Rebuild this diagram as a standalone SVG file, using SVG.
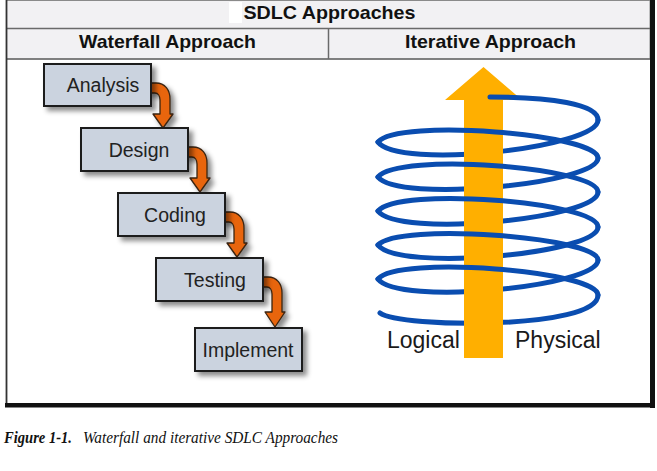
<svg xmlns="http://www.w3.org/2000/svg" width="657" height="471" viewBox="0 0 657 471">
<defs>
<style>
.hdr{font-family:"Liberation Sans",Arial,sans-serif;font-weight:bold;font-size:19px;fill:#111;text-anchor:middle}
.box{fill:#cbd3df;stroke:#1e1e1e;stroke-width:2}
.lbl{font-family:"Liberation Sans",Arial,sans-serif;font-size:19.5px;fill:#222;text-anchor:middle}
.arr{fill:#e8650f;stroke:#3a2412;stroke-width:1.3;stroke-linejoin:round}
.coil{fill:none;stroke:#0a4db0;stroke-width:5;stroke-linecap:round;stroke-linejoin:round}
.side{font-family:"Liberation Sans",Arial,sans-serif;font-size:23px;fill:#1a1a1a}
.cap{font-family:"Liberation Serif","Times New Roman",serif;font-style:italic;font-size:16.5px;fill:#111}
</style>
<filter id="sh" x="-20%" y="-20%" width="150%" height="160%">
<feDropShadow dx="4" dy="4" stdDeviation="2.5" flood-color="#000" flood-opacity="0.45"/>
</filter>
</defs>
<rect width="657" height="471" fill="#fff"/>
<g id="frame">
<rect x="6.5" y="0.5" width="643.5" height="58.5" fill="#f2f1f3" stroke="#8a8a8a" stroke-width="1"/>
<line x1="6.5" y1="28.5" x2="650" y2="28.5" stroke="#6a6a6a" stroke-width="1.5"/>
<line x1="6.5" y1="59" x2="650" y2="59" stroke="#6a6a6a" stroke-width="1.5"/>
<line x1="328.5" y1="28.5" x2="328.5" y2="59" stroke="#6a6a6a" stroke-width="1.5"/>
<line x1="6.5" y1="0" x2="6.5" y2="406" stroke="#333" stroke-width="1.8"/>
<rect x="650" y="0" width="5" height="408" fill="#111"/>
<rect x="5" y="403" width="650" height="4.5" fill="#111"/>
<rect x="229" y="2" width="13" height="21" fill="#fff"/>
<text class="hdr" x="329.5" y="18.5" textLength="172" lengthAdjust="spacingAndGlyphs">SDLC Approaches</text>
<text class="hdr" x="167.5" y="48" textLength="177" lengthAdjust="spacingAndGlyphs">Waterfall Approach</text>
<text class="hdr" x="490.5" y="48" textLength="171" lengthAdjust="spacingAndGlyphs">Iterative Approach</text>
</g>
<g id="connectors" filter="url(#sh)">
<path class="arr" d="M147,83 L156,83 C165,83 170,90 170,99 L170,114 L173,114 L163,128 L153,114 L160,114 L160,100 C160,96 158,93 155,93 L147,93 Z"/>
<path class="arr" d="M184,147 L193,147 C202,147 207,154 207,163 L207,178 L210,178 L200,192 L190,178 L197,178 L197,164 C197,160 195,157 192,157 L184,157 Z"/>
<path class="arr" d="M221,212 L230,212 C239,212 244,219 244,228 L244,243 L247,243 L237,257 L227,243 L234,243 L234,229 C234,225 232,222 229,222 L221,222 Z"/>
<path class="arr" d="M259,277 L268,277 C277,277 282,284 282,293 L282,312 L285,312 L275,327 L265,312 L272,312 L272,294 C272,290 270,287 267,287 L259,287 Z"/>
</g>
<g id="analysis">
<rect class="box" x="44" y="64" width="107" height="42" filter="url(#sh)"/>
<text class="lbl" x="103" y="92">Analysis</text>
</g>
<g id="design">
<rect class="box" x="81" y="128" width="107" height="43" filter="url(#sh)"/>
<text class="lbl" x="139" y="157">Design</text>
</g>
<g id="coding">
<rect class="box" x="118" y="193" width="107" height="43" filter="url(#sh)"/>
<text class="lbl" x="175" y="222">Coding</text>
</g>
<g id="testing">
<rect class="box" x="156" y="258" width="107" height="43" filter="url(#sh)"/>
<text class="lbl" x="215" y="287">Testing</text>
</g>
<g id="implement">
<rect class="box" x="195" y="328" width="107" height="43" filter="url(#sh)"/>
<text class="lbl" x="248" y="357">Implement</text>
</g>
<g id="iterative">
<path class="coil" d="M380,313 C400,328 598,330 598,295 M378,279 C398,306 598,287 598,260 M378,245 C398,272 598,254 598,227 M378,211 C398,238 598,219 598,192 M378,177 C398,203 598,184 598,158 M378,142 C398,170 598,148 598,120"/>
<path d="M464,358 L464,100 L445,100 L483.5,67 L522,100 L503,100 L503,358 Z" fill="#ffaf00"/>
<path class="coil" d="M598,295 C598,271 398,255 378,279 M598,260 C598,237 398,222 378,245 M598,227 C598,202 398,186 378,211 M598,192 C598,167 398,152 378,177 M598,158 C598,134 398,118 378,142 M598,120 C598,104 550,97 490,97"/>
<text class="side" x="387" y="348">Logical</text>
<text class="side" x="515" y="348">Physical</text>
</g>
<g id="caption">
<text class="cap" x="4" y="443" font-weight="bold" textLength="68" lengthAdjust="spacingAndGlyphs">Figure 1-1.</text>
<text class="cap" x="83" y="443" textLength="255" lengthAdjust="spacingAndGlyphs">Waterfall and iterative SDLC Approaches</text>
</g>
</svg>
